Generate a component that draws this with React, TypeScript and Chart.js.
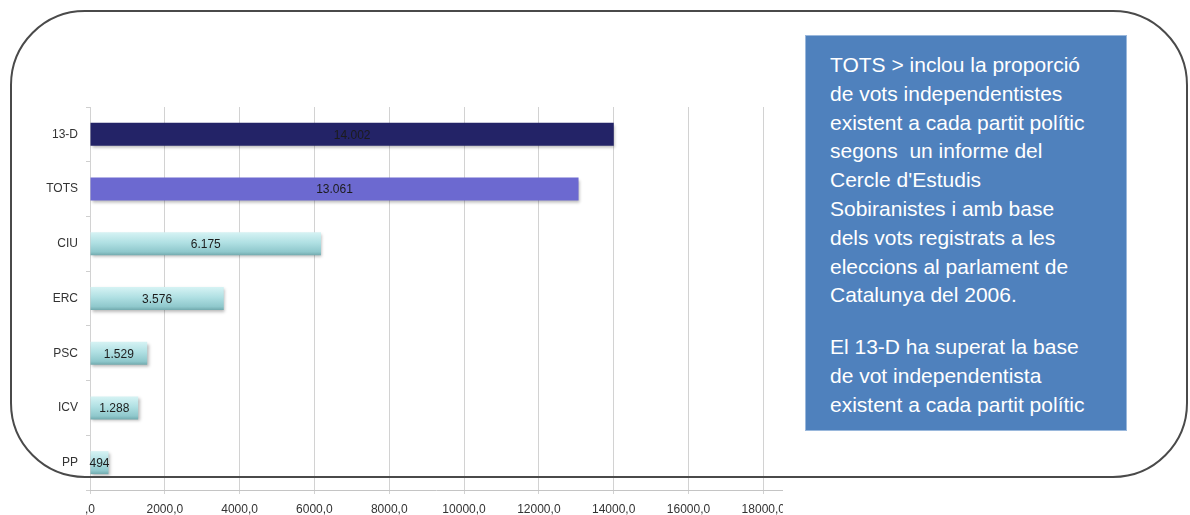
import React, { useEffect, useRef } from "react";
import { Chart, registerables } from "chart.js";

Chart.register(...registerables);

const categories = ["13-D", "TOTS", "CIU", "ERC", "PSC", "ICV", "PP"];
const votes = [14002, 13061, 6175, 3576, 1529, 1288, 494];
const axisMax = 18500;
const xTickValues = [0, 2000, 4000, 6000, 8000, 10000, 12000, 14000, 16000, 18000];

const solidColors: (string | null)[] = ["#232367", "#6c69d0", null, null, null, null, null];
const FONT = "'Liberation Sans', Arial, sans-serif";

const noteLines1 = [
  "TOTS > inclou la proporció",
  "de vots independentistes",
  "existent a cada partit polític",
  "segons  un informe del",
  "Cercle d'Estudis",
  "Sobiranistes i amb base",
  "dels vots registrats a les",
  "eleccions al parlament de",
  "Catalunya del 2006.",
];
const noteLines2 = [
  "El 13-D ha superat la base",
  "de vot independentista",
  "existent a cada partit polític",
];

const fmtThousands = (v: number) => {
  const s = String(Math.round(v));
  return s.replace(/\B(?=(\d{3})+(?!\d))/g, ".");
};

const barPlugin = {
  id: "barDecor",
  beforeDatasetsDraw(chart: any) {
    const ctx = chart.ctx;
    ctx.save();
    ctx.shadowColor = "rgba(0,0,0,0.28)";
    ctx.shadowOffsetX = 1.5;
    ctx.shadowOffsetY = 2;
    ctx.shadowBlur = 3;
  },
  afterDatasetsDraw(chart: any) {
    const ctx = chart.ctx;
    ctx.restore();
    const meta = chart.getDatasetMeta(0);
    ctx.save();
    ctx.font = `12px ${FONT}`;
    ctx.fillStyle = "#1c1c1c";
    ctx.textAlign = "center";
    ctx.textBaseline = "middle";
    meta.data.forEach((el: any, i: number) => {
      const v = chart.data.datasets[0].data[i] as number;
      ctx.fillText(fmtThousands(v), (el.x + el.base) / 2, el.y + 1);
    });
    ctx.restore();
  },
};

export default function App() {
  const canvasRef = useRef<HTMLCanvasElement | null>(null);

  useEffect(() => {
    if (!canvasRef.current) return;
    const chart = new Chart(canvasRef.current, {
      type: "bar",
      data: {
        labels: categories,
        datasets: [
          {
            data: votes,
            categoryPercentage: 1,
            barPercentage: 0.42,
            borderWidth: 0,
            backgroundColor: (c: any) => {
              const i = c.dataIndex;
              if (i === undefined) return "#a8dde0";
              if (solidColors[i]) return solidColors[i] as string;
              const ch = c.chart;
              const ys = ch.scales && ch.scales.y;
              if (!ys || !ch.chartArea) return "#a8dde0";
              const yc = ys.getPixelForValue(i);
              const half = ((ys.height / categories.length) * 0.42) / 2;
              const g = ch.ctx.createLinearGradient(0, yc - half, 0, yc + half);
              g.addColorStop(0, "#d6f3f4");
              g.addColorStop(0.45, "#b0e0e3");
              g.addColorStop(0.85, "#8fc8cc");
              g.addColorStop(1, "#72aaae");
              return g;
            },
          },
        ],
      },
      options: {
        indexAxis: "y",
        responsive: false,
        maintainAspectRatio: false,
        animation: false,
        layout: { padding: { top: 107, left: 0, right: 1, bottom: 0 } },
        plugins: {
          legend: { display: false },
          tooltip: { enabled: false },
        },
        scales: {
          x: {
            type: "linear",
            min: 0,
            max: axisMax,
            afterBuildTicks: (s: any) => {
              s.ticks = xTickValues.map((v) => ({ value: v }));
            },
            ticks: {
              autoSkip: false,
              maxRotation: 0,
              minRotation: 0,
              padding: 8,
              color: "#333",
              font: { size: 12, family: FONT },
              callback: (v: any) => {
                const n = Number(v);
                return n === 0 ? ",0" : `${n},0`;
              },
            },
            afterFit: (s: any) => {
              s.height = 25;
              s.paddingLeft = 0;
              s.paddingRight = 0;
            },
            grid: {
              color: "#d2d2d2",
              tickLength: 4,
              lineWidth: 1,
            },
            border: { color: "#c4c4c4", width: 1 },
          },
          y: {
            ticks: {
              padding: 8,
              color: "#333",
              font: { size: 12, family: FONT },
            },
            afterFit: (s: any) => {
              s.width = 90;
            },
            grid: {
              display: true,
              drawOnChartArea: false,
              offset: true,
              tickLength: 4,
              color: "#cfcfcf",
            },
            border: { display: false },
          },
        },
      },
      plugins: [barPlugin],
    });
    return () => chart.destroy();
  }, []);

  const textStyle: React.CSSProperties = {
    whiteSpace: "pre",
    fontFamily: FONT,
    fontSize: 21,
    lineHeight: "28.8px",
    color: "#ffffff",
  };

  return (
    <div
      style={{
        position: "absolute",
        left: 0,
        top: 0,
        width: 1190,
        height: 515,
        background: "#ffffff",
        overflow: "hidden",
      }}
    >
      <canvas
        ref={canvasRef}
        width={783}
        height={515}
        style={{ position: "absolute", left: 0, top: 0, width: 783, height: 515 }}
      />
      <div
        style={{
          position: "absolute",
          left: 10,
          top: 10,
          width: 1178,
          height: 468,
          boxSizing: "border-box",
          border: "2px solid #4a4a4a",
          borderRadius: 75,
          pointerEvents: "none",
        }}
      />
      <div
        style={{
          position: "absolute",
          left: 805,
          top: 35,
          width: 322,
          height: 396,
          boxSizing: "border-box",
          background: "#4f81bd",
          border: "1px solid #9ab8dc",
          paddingLeft: 24,
          paddingTop: 15,
        }}
      >
        <div style={textStyle}>{noteLines1.join("\n")}</div>
        <div style={{ ...textStyle, marginTop: 23 }}>{noteLines2.join("\n")}</div>
      </div>
    </div>
  );
}
